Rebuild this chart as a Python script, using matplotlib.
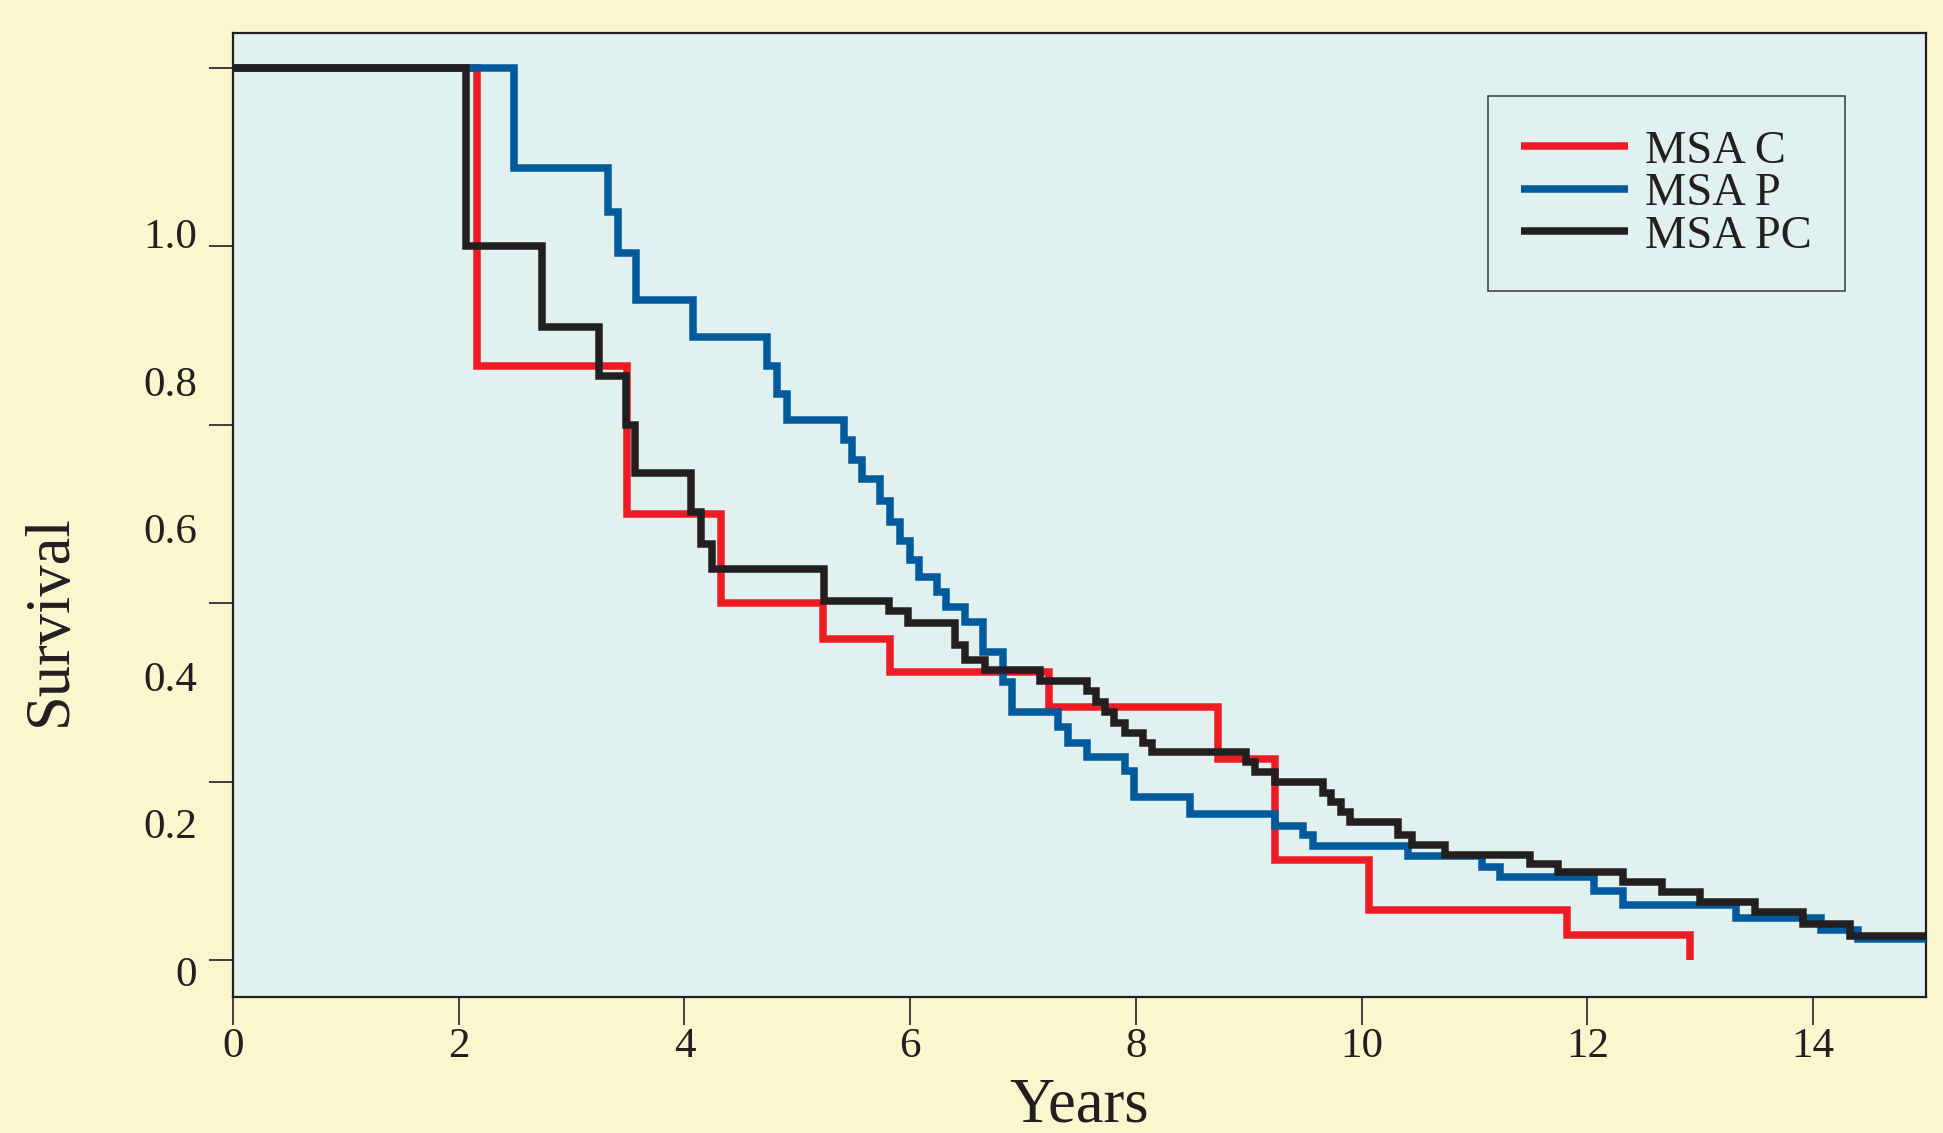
import numpy as np
import matplotlib.pyplot as plt

plt.rcParams['font.family'] = ['Liberation Serif', 'DejaVu Serif']

# step data: year of each drop, survival after the drop
msa_c_years = [0, 2.16, 3.49, 4.32, 5.23, 5.82, 7.23, 8.73, 9.23, 10.07, 11.82, 12.91]
msa_c_surv = [1.0, 0.666, 0.500, 0.400, 0.360, 0.323, 0.284, 0.226, 0.113, 0.056, 0.028, 0.0]

msa_p_years = [0, 2.49, 3.32, 3.41, 3.575, 4.08, 4.73, 4.82, 4.905, 5.41, 5.484,
               5.575, 5.735, 5.82, 5.91, 6.0, 6.08, 6.24, 6.32, 6.49, 6.645,
               6.82, 6.90, 7.31, 7.40, 7.57, 7.905, 7.985, 8.48, 9.23, 9.48,
               9.57, 10.41, 11.07, 11.23, 12.06, 12.32, 13.32, 14.07, 14.4, 15]
msa_p_surv = [1.0, 0.888, 0.838, 0.792, 0.740, 0.698, 0.666, 0.635, 0.605, 0.583, 0.561,
              0.539, 0.515, 0.491, 0.470, 0.449, 0.430, 0.413, 0.396, 0.379, 0.346,
              0.312, 0.278, 0.262, 0.243, 0.228, 0.212, 0.183, 0.164, 0.151, 0.140,
              0.128, 0.117, 0.105, 0.093, 0.078, 0.062, 0.047, 0.034, 0.024, 0.024]

msa_pc_years = [0, 2.066, 2.735, 3.244, 3.48, 3.56, 4.06, 4.15, 4.24, 5.235,
                5.81, 5.98, 6.40, 6.49, 6.66, 7.155, 7.57, 7.65, 7.73, 7.81,
                7.905, 8.064, 8.14, 8.975, 9.055, 9.23, 9.654, 9.733, 9.82, 9.90,
                10.32, 10.45, 10.74, 11.49, 11.74, 12.32, 12.66, 13.0, 13.49, 13.91,
                14.33, 15]
msa_pc_surv = [1.0, 0.800, 0.710, 0.655, 0.600, 0.546, 0.502, 0.467, 0.439, 0.403,
               0.391, 0.378, 0.353, 0.337, 0.325, 0.313, 0.302, 0.290, 0.278, 0.266,
               0.255, 0.244, 0.234, 0.222, 0.211, 0.200, 0.188, 0.177, 0.166, 0.155,
               0.140, 0.129, 0.118, 0.1085, 0.099, 0.088, 0.077, 0.0655, 0.054, 0.041,
               0.027, 0.027]

x_ticks = [0, 2, 4, 6, 8, 10, 12, 14]
y_ticks = [0, 0.2, 0.4, 0.6, 0.8, 1.0]
y_labels = ['0', '0.2', '0.4', '0.6', '0.8', '1.0']

series = [
    ('MSA C', msa_c_years, msa_c_surv, '#ED1C24'),
    ('MSA P', msa_p_years, msa_p_surv, '#005A9C'),
    ('MSA PC', msa_pc_years, msa_pc_surv, '#231F20'),
]

bg = '#FAF6CE'
panel = '#E1F1EF'
ink = '#231F20'

fig = plt.figure(figsize=(19.43, 11.33), dpi=100, facecolor=bg)
ax = fig.add_axes([0.1199, 0.12, 0.8713, 0.851], facecolor=panel)

for i, (name, yrs, surv, col) in enumerate(series):
    ax.step(yrs, surv, where='post', color=col, lw=5.4, label=name,
            solid_joinstyle='miter', solid_capstyle='butt', zorder=2 + i)

ax.set_xlim(0, 15)
ax.set_ylim(-0.041, 1.039)

for sp in ax.spines.values():
    sp.set_color(ink)
    sp.set_linewidth(1.6)

ax.set_xticks(x_ticks)
ax.tick_params(axis='x', direction='out', length=20, width=1.2, color=ink,
               labelsize=31, pad=2, labelcolor=ink)
ax.set_yticks(y_ticks)
ax.set_yticklabels([])
ax.tick_params(axis='y', direction='out', length=17, width=1.2, color=ink)

# the printed y labels sit offset from the tick marks in the original
sec = ax.secondary_yaxis('left', functions=(lambda p: (p + 0.012) / 0.826,
                                            lambda s: s * 0.826 - 0.012))
sec.set_yticks(y_ticks)
sec.set_yticklabels(y_labels)
sec.tick_params(length=0, pad=26, labelsize=31, labelcolor=ink)
sec.spines['left'].set_visible(False)

ax.set_xlabel('Years', fontsize=45, color=ink)
ax.xaxis.label.set_verticalalignment('center')
ax.xaxis.set_label_coords(0.5, -0.114)
ax.set_ylabel('Survival', fontsize=45, color=ink)
ax.yaxis.label.set_verticalalignment('center')
ax.yaxis.set_label_coords(-0.1077, 0.391)

leg = ax.legend(loc='upper right', bbox_to_anchor=(0.9525, 0.934), borderaxespad=0,
                fontsize=33.5, frameon=True, fancybox=False, facecolor=panel,
                edgecolor='#3a3a3a', framealpha=1, borderpad=0.72,
                handlelength=2.3, handletextpad=0.37, labelspacing=0.0)
leg.get_frame().set_linewidth(1.1)
for t in leg.get_texts():
    t.set_color(ink)

fig.savefig('out.png', dpi=100, facecolor=bg)
